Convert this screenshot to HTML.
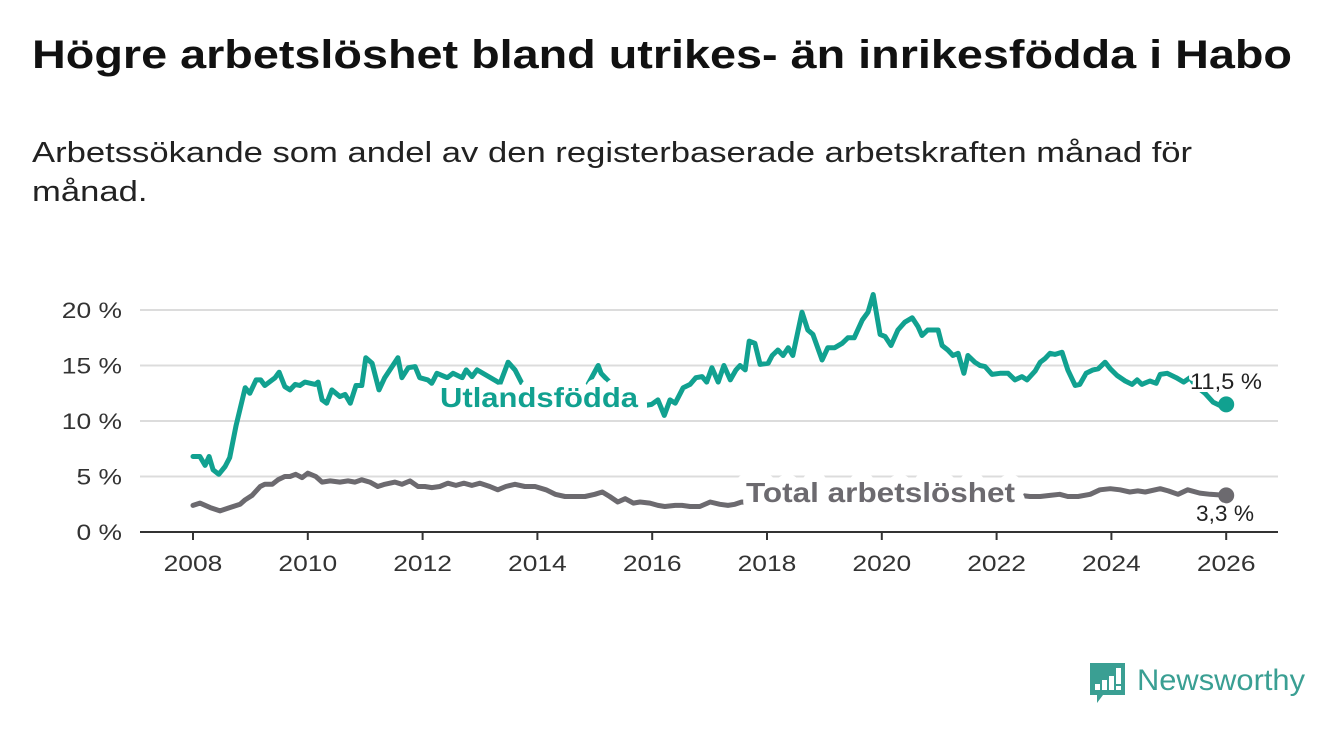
<!DOCTYPE html>
<html><head><meta charset="utf-8"><style>
body{margin:0;background:#fff;width:1340px;height:734px;overflow:hidden;font-family:"Liberation Sans",sans-serif;}
#title{position:absolute;left:32px;top:33px;font-size:40px;font-weight:bold;color:#111;white-space:nowrap;transform-origin:0 0;}
#sub{position:absolute;left:32px;top:134px;font-size:29px;line-height:39px;color:#222;white-space:nowrap;transform-origin:0 0;}
svg{position:absolute;left:0;top:0;}
</style></head><body>
<div id="title">Högre arbetslöshet bland utrikes- än inrikesfödda i Habo</div>
<div id="sub"><span id="sub1">Arbetssökande som andel av den registerbaserade arbetskraften månad för</span><br>månad.</div>
<svg id="chart" width="1340" height="734"></svg>
<script>
const uYears=[2008.00,2008.12,2008.21,2008.28,2008.35,2008.45,2008.56,2008.64,2008.75,2008.91,2008.99,2009.10,2009.18,2009.25,2009.43,2009.50,2009.60,2009.69,2009.78,2009.86,2009.95,2010.13,2010.18,2010.25,2010.33,2010.42,2010.56,2010.65,2010.74,2010.84,2010.94,2011.01,2011.12,2011.24,2011.34,2011.48,2011.57,2011.64,2011.75,2011.87,2011.95,2012.09,2012.16,2012.25,2012.43,2012.53,2012.69,2012.76,2012.86,2012.95,2013.35,2013.49,2013.61,2013.75,2014.01,2014.27,2014.57,2014.83,2015.06,2015.11,2015.35,2015.61,2015.87,2015.99,2016.10,2016.21,2016.31,2016.40,2016.54,2016.66,2016.76,2016.87,2016.95,2017.04,2017.15,2017.25,2017.36,2017.46,2017.53,2017.62,2017.69,2017.79,2017.88,2018.02,2018.09,2018.19,2018.28,2018.37,2018.45,2018.61,2018.71,2018.80,2018.96,2019.06,2019.18,2019.31,2019.41,2019.52,2019.66,2019.76,2019.85,2019.97,2020.06,2020.16,2020.28,2020.40,2020.53,2020.63,2020.70,2020.80,2020.98,2021.05,2021.15,2021.24,2021.33,2021.43,2021.50,2021.62,2021.71,2021.80,2021.92,2022.06,2022.20,2022.32,2022.44,2022.53,2022.67,2022.76,2022.84,2022.93,2023.02,2023.14,2023.24,2023.37,2023.45,2023.56,2023.68,2023.77,2023.89,2023.98,2024.10,2024.24,2024.36,2024.45,2024.53,2024.67,2024.78,2024.85,2024.97,2025.13,2025.26,2025.37,2025.46,2025.63,2025.77,2025.89,2026.00];
const uValues=[6.8,6.8,6.0,6.8,5.6,5.2,5.9,6.7,9.6,13.0,12.5,13.7,13.7,13.2,13.9,14.4,13.1,12.8,13.3,13.2,13.5,13.3,13.5,11.9,11.6,12.8,12.2,12.4,11.6,13.2,13.2,15.7,15.2,12.8,13.9,15.0,15.7,13.9,14.8,14.9,13.9,13.7,13.4,14.3,13.9,14.3,13.9,14.6,14.0,14.6,13.4,15.3,14.6,13.2,12.0,11.0,11.5,12.8,15.0,14.3,13.0,12.0,11.4,11.5,11.9,10.5,11.9,11.6,13.0,13.3,13.9,14.0,13.5,14.8,13.5,15.0,13.7,14.6,15.0,14.6,17.2,17.0,15.1,15.2,15.9,16.4,15.9,16.6,15.9,19.8,18.2,17.8,15.5,16.6,16.6,17.0,17.5,17.5,19.1,19.8,21.4,17.8,17.6,16.8,18.2,18.9,19.3,18.5,17.7,18.2,18.2,16.8,16.4,15.9,16.1,14.3,15.9,15.3,15.0,14.9,14.2,14.3,14.3,13.7,14.0,13.7,14.5,15.3,15.6,16.1,16.0,16.2,14.6,13.2,13.3,14.3,14.6,14.7,15.3,14.7,14.1,13.6,13.3,13.7,13.3,13.6,13.4,14.2,14.3,13.9,13.5,13.9,13.2,12.5,11.7,11.4,11.5];
const tYears=[2008.00,2008.12,2008.30,2008.47,2008.64,2008.82,2008.91,2009.03,2009.17,2009.25,2009.38,2009.48,2009.60,2009.69,2009.79,2009.90,2010.00,2010.14,2010.25,2010.39,2010.56,2010.70,2010.82,2010.94,2011.08,2011.22,2011.34,2011.52,2011.64,2011.78,2011.92,2012.04,2012.16,2012.30,2012.44,2012.58,2012.72,2012.86,2013.00,2013.17,2013.31,2013.45,2013.61,2013.78,2013.96,2014.15,2014.31,2014.48,2014.66,2014.83,2015.00,2015.13,2015.26,2015.40,2015.53,2015.67,2015.79,2015.96,2016.10,2016.22,2016.40,2016.52,2016.66,2016.83,2017.01,2017.18,2017.32,2017.44,2017.56,2018.00,2018.50,2019.00,2019.50,2020.00,2020.50,2021.00,2021.50,2022.00,2022.41,2022.58,2022.76,2022.93,2023.10,2023.24,2023.42,2023.63,2023.80,2023.98,2024.15,2024.32,2024.46,2024.59,2024.85,2024.99,2025.16,2025.33,2025.54,2025.72,2026.00];
const tValues=[2.4,2.6,2.2,1.9,2.2,2.5,2.9,3.3,4.1,4.3,4.3,4.7,5.0,5.0,5.2,4.9,5.3,5.0,4.5,4.6,4.5,4.6,4.5,4.7,4.5,4.1,4.3,4.5,4.3,4.6,4.1,4.1,4.0,4.1,4.4,4.2,4.4,4.2,4.4,4.1,3.8,4.1,4.3,4.1,4.1,3.8,3.4,3.2,3.2,3.2,3.4,3.6,3.2,2.7,3.0,2.6,2.7,2.6,2.4,2.3,2.4,2.4,2.3,2.3,2.7,2.5,2.4,2.5,2.7,2.6,2.3,2.4,2.6,3.0,4.2,3.8,3.4,3.1,3.3,3.2,3.2,3.3,3.4,3.2,3.2,3.4,3.8,3.9,3.8,3.6,3.7,3.6,3.9,3.7,3.4,3.8,3.5,3.4,3.3];
const yTicks=[0,5,10,15,20];
const yTickLabels=["0 %","5 %","10 %","15 %","20 %"];
const xTicks=[2008,2010,2012,2014,2016,2018,2020,2022,2024,2026];
const NS='http://www.w3.org/2000/svg';
const svg=document.getElementById('chart');
const X=y=>193+(y-2008)*57.4;
const Y=v=>532-v*11.1;
// fit header widths
const ti=document.getElementById('title');ti.style.transform='scaleX('+(1260/ti.offsetWidth)+')';
const s1=document.getElementById('sub1');document.getElementById('sub').style.transform='scaleX('+(1160/s1.offsetWidth)+')';
function mk(tag,attrs,parent){const e=document.createElementNS(NS,tag);for(const k in attrs)e.setAttribute(k,attrs[k]);(parent||svg).appendChild(e);return e;}
function widen(t,k){const w=t.getComputedTextLength();t.setAttribute('textLength',(w*k).toFixed(1));t.setAttribute('lengthAdjust','spacingAndGlyphs');}
yTicks.forEach((t,i)=>{
  if(t>0){const g=mk('line',{x1:140,x2:1278,y1:Y(t),y2:Y(t),stroke:'#dcdcdc','stroke-width':2});
  
  }
  const tx=mk('text',{x:122,y:Y(t)+8,'text-anchor':'end','font-size':22,fill:'#333','font-family':'Liberation Sans, sans-serif'});
  tx.textContent=yTickLabels[i];
  
  
  widen(tx,1.2);
});
const ax=mk('line',{x1:140,x2:1278,y1:532,y2:532,stroke:'#333','stroke-width':2});


xTicks.forEach(t=>{
  const tk=mk('line',{x1:X(t),x2:X(t),y1:532,y2:540,stroke:'#333','stroke-width':2});
  
  
  const tx=mk('text',{x:X(t),y:571,'text-anchor':'middle','font-size':22,fill:'#333','font-family':'Liberation Sans, sans-serif'});
  tx.textContent=t;
  
  
  widen(tx,1.2);
});
function series(yrs,vals,color,name){
  const d=yrs.map((y,i)=>(i?'L':'M')+X(y).toFixed(1)+','+Y(vals[i]).toFixed(1)).join('');
  const p=mk('path',{d:d,fill:'none',stroke:color,'stroke-width':5,'stroke-linejoin':'round','stroke-linecap':'round'});
  
  
  const n=yrs.length-1;
  const c=mk('circle',{cx:X(yrs[n]),cy:Y(vals[n]),r:8,fill:color});
  
  
}
series(tYears,tValues,'#6c6a6f','total');
series(uYears,uValues,'#11a190','utlandsfodda');
function label(txt,x,y,opts,name,w,sw){
  const t=mk('text',Object.assign({x:x,y:y,'font-family':'Liberation Sans, sans-serif',stroke:'#fff','stroke-width':sw,'paint-order':'stroke','stroke-linejoin':'round',textLength:w,lengthAdjust:'spacingAndGlyphs'},opts));
  t.textContent=txt;
  
  
}
label('Utlandsfödda',440,407,{'font-size':28,'font-weight':'bold',fill:'#11a190'},'utlandsfodda-label',198,16);
label('Total arbetslöshet',746,502,{'font-size':28,'font-weight':'bold',fill:'#6c6a6f'},'total-label',269,18);
label('11,5 %',1190,389,{'font-size':22,fill:'#222'},'utlandsfodda-value-label',72,6);
label('3,3 %',1196,521,{'font-size':22,fill:'#222'},'total-value-label',58,6);
// logo
const lg=mk('g',{});


mk('path',{d:'M1090,663 h35 v32 h-22 l-6,8 v-8 h-7 z',fill:'#3a9f93'},lg);
[[1095,6],[1102,10],[1109,14]].forEach(b=>mk('rect',{x:b[0],y:690-b[1],width:5,height:b[1],fill:'#fff'},lg));
mk('rect',{x:1116,y:668,width:5,height:16,fill:'#fff'},lg);
mk('rect',{x:1116,y:686,width:5,height:4,fill:'#fff'},lg);
const lt=mk('text',{x:1137,y:690,'font-size':30,fill:'#3a9f93','font-family':'Liberation Sans, sans-serif',textLength:168,lengthAdjust:'spacingAndGlyphs'},lg);
lt.textContent='Newsworthy';
</script>
</body></html>
